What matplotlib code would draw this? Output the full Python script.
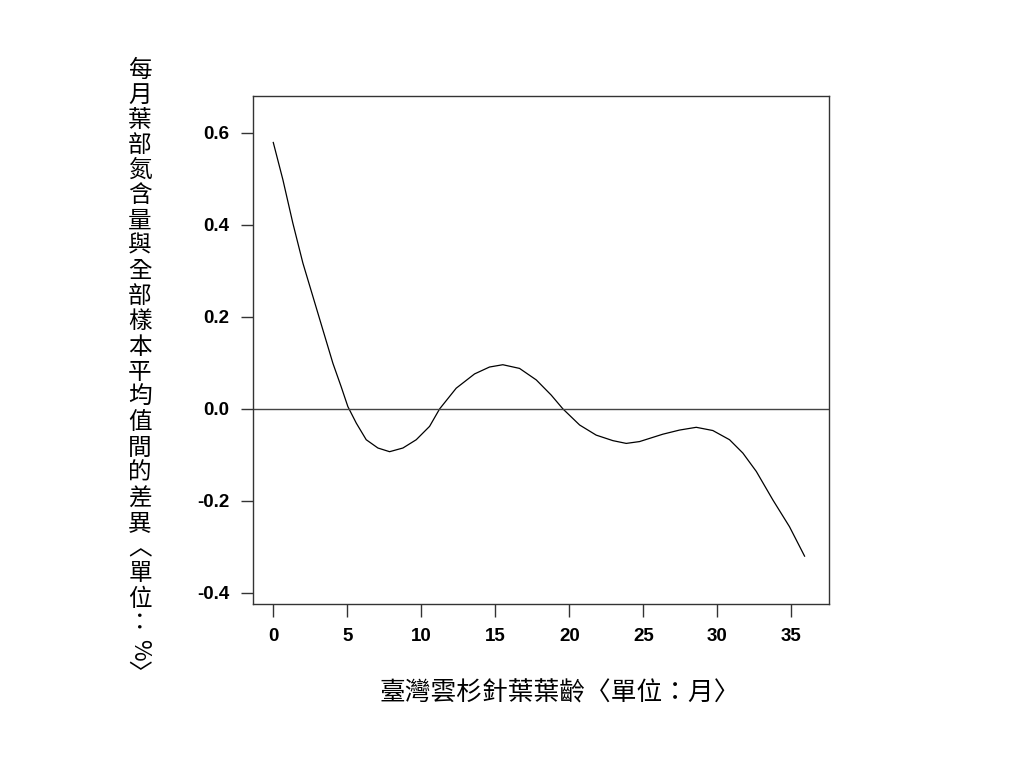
import matplotlib
matplotlib.use('Agg')
import matplotlib.pyplot as plt

# data
age = [0.0, 0.65, 1.32, 2.0, 2.68, 3.35, 4.03, 4.59, 5.04, 5.61, 6.28, 7.07,
       7.86, 8.76, 9.66, 10.56, 11.24, 12.36, 13.60, 14.61, 15.51, 16.64,
       17.77, 18.78, 19.57, 20.70, 21.82, 22.95, 23.85, 24.75, 26.32, 27.45,
       28.58, 29.70, 30.83, 31.73, 32.64, 33.76, 34.88, 35.90]
diff = [0.579, 0.498, 0.404, 0.317, 0.244, 0.172, 0.099, 0.048, 0.005, -0.031,
        -0.067, -0.085, -0.093, -0.085, -0.067, -0.038, 0.0, 0.045, 0.076,
        0.091, 0.096, 0.088, 0.063, 0.030, 0.0, -0.035, -0.057, -0.069,
        -0.075, -0.071, -0.055, -0.046, -0.040, -0.047, -0.067, -0.096,
        -0.136, -0.198, -0.256, -0.320]
xticks = [0, 5, 10, 15, 20, 25, 30, 35]
yticks = [-0.4, -0.2, 0.0, 0.2, 0.4, 0.6]
ylabel_chars = list('每月葉部氮含量與全部樣本平均值間的差異︿單位：%﹀')
xlabel = '臺灣雲杉針葉葉齡〈單位：月〉'

cjk = ['Noto Sans CJK TC', 'DejaVu Sans']

fig = plt.figure(figsize=(10.24, 7.68), dpi=100)
ax = fig.add_axes([253/1024, 1-604/768, 576/1024, 508/768])

ax.plot(age, diff, color='black', lw=0.9)
ax.axhline(0, color='#444444', lw=1.0)

ax.set_xlim(-1.37, 37.55)
ax.set_ylim(-0.424, 0.680)
ax.set_xticks(xticks)
ax.set_yticks(yticks)
ax.set_xticklabels([str(t) for t in xticks])
ax.set_yticklabels(['%.1f' % t for t in yticks])
for lab in ax.get_xticklabels() + ax.get_yticklabels():
    lab.set_fontfamily('Liberation Sans')
    lab.set_fontweight('bold')
    lab.set_fontsize(13.5)
ax.tick_params(direction='out', length=9, width=1.0, color='#333333', pad=8)
for s in ax.spines.values():
    s.set_color('#333333')
    s.set_linewidth(1.0)

# x label
fig.text(560/1024, 1-694/768, xlabel, family=cjk, fontsize=18.5,
         ha='center', va='center')

# y label, stacked characters (vertical-form brackets, % turned)
for i, ch in enumerate(ylabel_chars):
    y = 70 + i*25.2
    rot = -90 if ch == '%' else 0
    fig.text(140/1024, 1-y/768, ch, family=cjk, fontsize=17,
             ha='center', va='center', rotation=rot)

fig.savefig('out.png', dpi=100)
